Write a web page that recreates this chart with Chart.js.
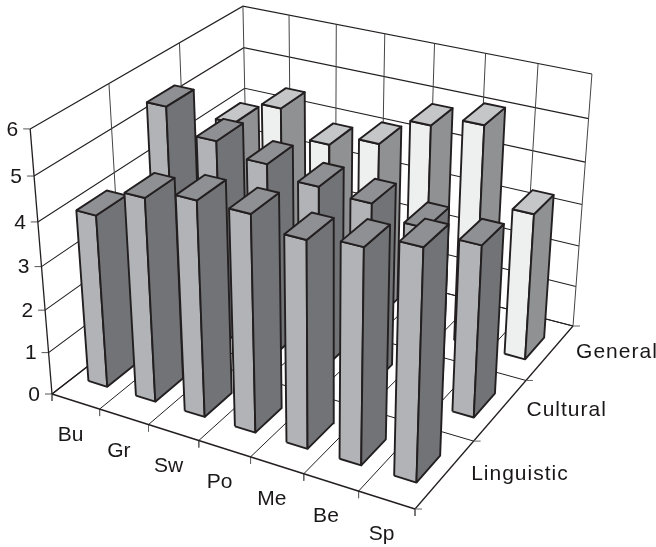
<!DOCTYPE html>
<html>
<head>
<meta charset="utf-8">
<style>body { margin: 0; background: #fff; } canvas { display: block; }</style>
<script src="https://cdn.jsdelivr.net/npm/chart.js@4/dist/chart.umd.js"></script>
</head>
<body>
<canvas id="chart" width="656" height="547"></canvas>
<script>
const categories = ["Bu", "Gr", "Sw", "Po", "Me", "Be", "Sp"];
const seriesNames = ["Linguistic", "Cultural", "General"];
const linguistic = [4.0, 4.67, 4.9, 4.9, 4.65, 4.8, 5.1];
const cultural = [5.37, 4.85, 4.6, 4.37, 4.28, 4.03, 3.95];
const general = [4.0, 4.6, 4.0, 4.28, 4.96, 5.22, 3.48];
const zTicks = [0, 1, 2, 3, 4, 5, 6];

const faceColors = [
  { front: "#b1b3b6", side: "#717376", top: "#8f9093" },
  { front: "#b1b3b6", side: "#717376", top: "#8f9093" },
  { front: "#eef0ef", side: "#8f9193", top: "#c4c6c8" },
];
const ink = "#231f20";
const barLo = 0.3, barHi = 0.7;

// corners of the floor and the top of the walls, in page pixels
const floor = [[52, 394], [415, 509], [573, 326], [248, 242]];
const roof = [[0, 0, 30, 129], [1, 1, 592, 73], [0, 1, 243, 7]];

// unit square -> floor quad
function floorMatrix(q) {
  const dx1 = q[1][0] - q[2][0], dx2 = q[3][0] - q[2][0], sx = q[0][0] - q[1][0] + q[2][0] - q[3][0];
  const dy1 = q[1][1] - q[2][1], dy2 = q[3][1] - q[2][1], sy = q[0][1] - q[1][1] + q[2][1] - q[3][1];
  const den = dx1 * dy2 - dx2 * dy1;
  const g = (sx * dy2 - dx2 * sy) / den, h = (dx1 * sy - sx * dy1) / den;
  return {
    a: q[1][0] - q[0][0] + g * q[1][0], b: q[3][0] - q[0][0] + h * q[3][0], c: q[0][0],
    d: q[1][1] - q[0][1] + g * q[1][1], e: q[3][1] - q[0][1] + h * q[3][1], f: q[0][1],
    g: g, h: h,
  };
}
const M = floorMatrix(floor);

// least squares for the vertical column of the camera matrix
function verticalColumn() {
  const rows = [];
  roof.forEach(([s, t, X, Y]) => {
    const w = M.g * s + M.h * t + 1;
    rows.push([1, 0, -X, X * w - (M.a * s + M.b * t + M.c)]);
    rows.push([0, 1, -Y, Y * w - (M.d * s + M.e * t + M.f)]);
  });
  const A = [[0, 0, 0, 0], [0, 0, 0, 0], [0, 0, 0, 0]];
  rows.forEach((r) => {
    for (let i = 0; i < 3; i++) for (let j = 0; j < 4; j++) A[i][j] += r[i] * r[j];
  });
  for (let i = 0; i < 3; i++) {
    let p = i;
    for (let k = i + 1; k < 3; k++) if (Math.abs(A[k][i]) > Math.abs(A[p][i])) p = k;
    [A[i], A[p]] = [A[p], A[i]];
    for (let k = 0; k < 3; k++) {
      if (k === i) continue;
      const m = A[k][i] / A[i][i];
      for (let j = i; j < 4; j++) A[k][j] -= m * A[i][j];
    }
  }
  return [A[0][3] / A[0][0], A[1][3] / A[1][1], A[2][3] / A[2][2]];
}
const V = verticalColumn();

// u: category position, v: series position, z: value
function project(u, v, z) {
  const s = u / categories.length, t = v / seriesNames.length, k = z / 6;
  const w = M.g * s + M.h * t + 1 + V[2] * k;
  return {
    x: (M.a * s + M.b * t + M.c + V[0] * k) / w,
    y: (M.d * s + M.e * t + M.f + V[1] * k) / w,
  };
}

const datasets = [];
function addLine(points, width, color) {
  datasets.push({ data: points, showLine: true, fill: false, borderColor: color || ink, borderWidth: width, pointRadius: 0, tension: 0 });
}
function addFace(points, color) {
  datasets.push({ data: points.concat([points[0]]), showLine: true, fill: "shape", backgroundColor: color, borderColor: ink, borderWidth: 1.9, borderJoinStyle: "round", pointRadius: 0, tension: 0 });
}
function shift(p, dx, dy) { return { x: p.x + dx, y: p.y + dy }; }

const nu = categories.length, nv = seriesNames.length;
// walls
zTicks.forEach((z) => {
  addLine([project(0, 0, z), project(0, nv, z), project(nu, nv, z)], z === 6 ? 1.2 : 1.1);
  const p = project(0, 0, z);
  addLine([p, shift(p, -7, 0)], 1, "#555");
});
for (let v = 0; v <= nv; v++) addLine([project(0, v, 0), project(0, v, 6)], v === 0 ? 1.3 : 1, v === 0 ? ink : "#444");
for (let u = 1; u <= nu; u++) addLine([project(u, nv, 0), project(u, nv, 6)], 1, "#444");
// floor
for (let u = 0; u <= nu; u++) {
  addLine([project(u, 0, 0), project(u, nv, 0)], u === 0 || u === nu ? 1.3 : 1);
  const p = project(u, 0, 0);
  addLine([p, shift(p, 0, 7)], 1, "#666");
}
for (let v = 0; v <= nv; v++) {
  addLine([project(0, v, 0), project(nu, v, 0)], v === 0 ? 1.4 : 1);
  const p = project(nu, v, 0);
  addLine([p, shift(p, 7, 0)], 1, "#666");
}

// bars, back row first, left to right
[linguistic, cultural, general].map((vals, j) => ({ vals, j })).reverse().forEach(({ vals, j }) => {
  vals.forEach((val, i) => {
    const u0 = i + barLo, u1 = i + barHi, v0 = j + barLo, v1 = j + barHi;
    addFace([project(u0, v0, 0), project(u1, v0, 0), project(u1, v0, val), project(u0, v0, val)], faceColors[j].front);
    addFace([project(u1, v0, 0), project(u1, v1, 0), project(u1, v1, val), project(u1, v0, val)], faceColors[j].side);
    addFace([project(u0, v0, val), project(u1, v0, val), project(u1, v1, val), project(u0, v1, val)], faceColors[j].top);
  });
});
// lower order is painted last, so number from the back
datasets.forEach((d, k) => { d.order = datasets.length - k; });

const axisLabels = {
  id: "axisLabels",
  afterDatasetsDraw(chart) {
    const ctx = chart.ctx, sx = chart.scales.x, sy = chart.scales.y;
    const at = (p) => [sx.getPixelForValue(p.x), sy.getPixelForValue(p.y)];
    ctx.save();
    ctx.fillStyle = "#1a1718";
    ctx.font = '21px "Liberation Sans"';
    ctx.textBaseline = "middle";
    ctx.textAlign = "right";
    zTicks.forEach((z) => {
      const [x, y] = at(project(0, 0, z));
      ctx.fillText(String(z), x - 12, y + 1);
    });
    ctx.textAlign = "center";
    categories.forEach((c, i) => {
      const [x, y] = at(project(i + 0.5, 0, 0));
      ctx.fillText(c, x - 5, y + 34);
    });
    ctx.textAlign = "left";
    ctx.letterSpacing = "1px";
    seriesNames.forEach((c, j) => {
      const [x, y] = at(project(nu, j + 0.5, 0));
      ctx.fillText(c, x + 26, y);
    });
    ctx.restore();
  },
};

new Chart(document.getElementById("chart").getContext("2d"), {
  type: "scatter",
  data: { datasets: datasets },
  options: {
    responsive: false,
    animation: false,
    layout: { padding: 0 },
    scales: {
      x: { type: "linear", min: 0, max: 656, display: false },
      y: { type: "linear", min: 0, max: 547, reverse: true, display: false },
    },
    plugins: { legend: { display: false }, tooltip: { enabled: false }, title: { display: false } },
  },
  plugins: [axisLabels],
});
</script>
</body>
</html>
